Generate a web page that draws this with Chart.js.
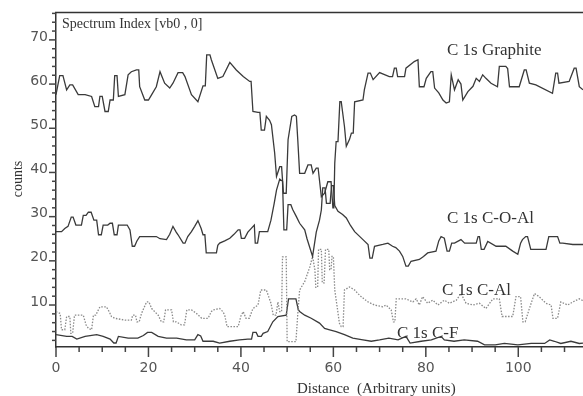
<!DOCTYPE html>
<html>
<head>
<meta charset="utf-8">
<script src="https://cdn.jsdelivr.net/npm/chart.js@4"></script>
<style>
  html, body { margin: 0; padding: 0; background: #fff; }
  #chart { display: block; }
</style>
</head>
<body>
<canvas id="chart" width="583" height="396"></canvas>
<script>
// values (distance, counts)
const graphiteX = [0,0.8,1.5,2.3,3.0,3.6,4.8,6.3,7.7,8.4,9.2,9.5,10.0,10.6,11.3,11.7,12.4,12.7,13.2,13.5,14.9,15.6,16.3,17.4,17.9,18.1,19.2,20.0,20.7,21.7,22.5,23.5,24.6,25.3,26.4,27.4,27.9,29.3,30.7,31.8,32.3,32.6,33.3,33.6,35.0,36.1,37.6,39.0,40.5,41.9,42.2,42.6,43.7,44.1,44.4,45.1,45.5,46.2,46.6,47.3,47.7,48.4,48.8,49.2,49.8,50.2,51.0,51.6,52.0,52.3,52.7,53.8,54.5,55.2,55.6,56.3,56.7,57.4,58.1,58.8,59.5,59.9,60.1,60.3,60.6,61.0,61.4,61.7,62.4,62.8,63.5,63.9,64.3,64.6,66.4,66.7,67.5,68.0,68.6,70.0,72.1,72.8,73.2,73.6,73.9,75.4,75.7,77.5,78.3,78.6,79.6,80.1,81.1,81.5,81.9,82.8,83.7,84.4,85.1,85.5,86.2,87.0,87.6,88.0,89.1,90.2,90.9,91.6,92.3,93.0,94.1,95.5,95.9,97.3,97.7,98.1,100.2,101.3,101.7,102.4,103.8,107.4,108.1,108.5,108.8,111.0,112.1,112.5,113.2,114];
const graphiteY = [57.6,61.9,61.9,58.7,59.8,59.8,57.6,57.6,57.2,54.9,54.9,57.2,57.2,53.8,53.8,56.4,56.4,61.9,61.9,57.2,57.6,62.1,62.8,63.2,63.2,59.4,56.4,56.4,57.6,59.4,62.8,60.2,59.1,60.2,62.6,62.6,61.7,57.6,56.0,59.6,59.6,66.6,66.6,65.5,61.3,61.7,64.9,63.2,61.7,60.6,60.6,53.8,53.6,53.6,49.6,49.6,52.7,51.8,50.8,44.4,39.1,41.3,41.3,35.3,35.3,47.4,52.7,53.0,52.7,47.4,39.8,39.8,41.7,41.7,39.8,41.0,41.0,34.5,35.3,37.9,37.9,32.0,32.0,42.1,47.0,47.0,56.0,56.0,50.4,45.9,47.5,48.9,48.9,56.0,56.4,58.7,62.5,62.5,61.0,62.6,61.7,61.7,63.6,63.6,61.7,61.7,63.6,65.1,65.5,59.4,59.4,61.3,62.8,62.8,59.1,58.0,56.4,55.7,56.0,62.1,58.7,61.0,60.0,56.4,58.3,59.5,61.3,60.6,62.1,61.3,60.2,59.4,64.0,64.0,63.5,59.4,59.4,63.2,63.2,60.2,59.8,57.9,62.5,62.5,60.2,60.6,63.6,63.6,59.4,58.7];

const coalX = [0,1.2,1.9,2.6,3.3,3.7,4.3,5.5,5.9,6.5,7.0,7.6,8.2,8.8,9.2,9.8,10.2,11.2,11.7,12.2,12.6,13.2,13.5,15.4,16.0,16.5,17.0,17.5,18.1,21.7,22.5,23.9,24.6,25.3,26.0,26.4,27.5,27.9,28.5,29.3,30.0,30.7,31.4,31.8,32.2,32.5,34.7,35.0,35.4,36.5,37.6,38.5,39.4,39.8,40.1,40.8,41.5,42.2,42.9,43.1,43.6,44.0,45.8,46.5,47.2,47.7,48.4,49.0,49.3,49.9,50.2,50.8,51.2,52.0,52.7,53.8,54.3,55.5,56.3,57.0,57.4,57.7,58.2,58.5,59.3,59.6,60.0,60.3,61.0,62.0,62.8,63.7,64.6,65.5,66.4,67.5,67.9,68.4,68.9,70.7,71.8,72.8,73.5,74.3,75.0,75.7,76.2,76.8,78.6,79.5,80.4,82.2,82.8,83.3,84.0,84.6,85.1,85.6,86.2,87.6,88.4,89.1,90.9,91.3,91.6,92.0,92.6,93.4,95.2,97.3,98.8,99.9,100.5,100.9,101.6,102.0,102.7,103.1,106.0,106.6,108.5,109.0,109.6,111.8,114];
const coalY = [26.6,26.6,27.3,27.8,29.9,29.9,28.1,28.1,30.3,30.3,31.0,31.0,29.2,29.2,25.9,25.9,28.1,28.1,28.5,28.5,25.9,25.9,28.1,28.1,27.0,23.3,23.3,24.5,25.5,25.5,25.0,24.8,26.0,27.8,26.5,25.9,24.0,24.0,25.5,26.6,27.8,29.1,27.3,25.9,25.9,21.8,21.8,23.5,24.0,24.5,25.1,26.0,27.0,27.0,25.1,25.1,26.5,27.3,28.1,24.0,24.0,26.6,26.6,29.2,33.0,36.0,38.5,38.0,27.0,27.0,32.7,32.7,31.6,30.0,28.5,27.0,25.0,21.0,26.5,29.2,31.5,36.5,36.5,33.0,33.0,37.0,37.0,32.5,31.2,30.5,29.7,28.0,26.6,25.7,24.8,23.7,20.6,20.6,23.3,23.7,24.0,23.3,23.0,22.2,21.0,18.8,18.8,19.9,20.3,21.0,21.8,22.2,24.5,25.5,25.1,22.2,22.2,24.0,24.0,24.8,24.0,24.0,24.0,25.5,25.5,22.6,22.6,24.4,23.3,23.3,22.2,21.5,24.0,24.8,25.5,25.5,22.6,22.6,22.6,25.5,25.5,24.0,24.0,23.7,23.7];

const calX = [0,0.9,1.2,1.9,2.3,3.0,3.2,3.6,4.0,5.9,6.5,7.0,7.7,8.1,8.6,9.5,10.9,11.5,12.0,12.7,14.9,16.3,16.6,17.2,17.5,18.0,18.5,19.6,20.1,20.7,22.1,22.8,23.3,23.7,25.0,25.4,26.0,27.1,27.8,28.3,29.3,30.4,31.5,32.9,33.6,34.0,35.4,36.1,36.5,37.0,39.4,40.0,40.5,41.1,41.8,42.6,43.7,44.3,45.5,46.5,47.0,47.6,48.0,48.4,48.8,49.0,49.8,50.0,51.9,52.3,52.7,53.8,54.9,55.5,56.0,56.2,56.6,56.8,57.4,57.6,58.0,58.3,59.0,59.2,59.5,59.7,60.0,60.3,60.9,61.3,61.7,62.1,62.4,63.5,64.6,65.3,66.0,67.5,68.9,70.7,71.4,72.5,73.0,73.3,73.6,75.7,76.5,77.2,77.9,78.6,79.3,80.4,81.5,82.6,84.0,85.1,86.6,87.6,88.7,90.2,91.6,93.0,94.5,95.9,96.5,98.8,99.5,100.5,101.0,101.5,102.4,103.5,104.5,106.0,107.1,107.5,108.5,109.2,110.7,111.8,113.2,114];
const calY = [8.5,8.1,4.4,4.4,7.4,7.4,3.6,3.6,7.7,7.7,5.5,4.7,4.4,7.7,7.7,9.6,9.6,8.5,7.4,7.0,6.6,6.6,7.7,7.7,6.2,6.2,8.1,10.7,10.7,9.2,7.7,6.2,6.2,8.9,8.9,6.2,6.2,5.5,5.5,8.9,8.9,8.1,7.0,7.0,8.5,8.9,9.2,8.5,7.7,5.1,5.1,7.5,8.5,7.0,7.0,9.2,10.0,13.4,13.4,10.4,7.7,7.7,10.7,8.5,8.5,20.9,20.9,1.7,1.7,8.0,13.4,15.3,18.6,21.0,18.0,14.0,14.0,22.6,22.6,15.0,15.0,22.6,22.6,18.0,18.0,21.0,21.0,13.4,9.0,5.9,5.1,5.1,13.4,14.1,13.4,12.6,11.9,10.7,10.0,9.6,10.0,8.9,6.2,6.2,11.4,11.4,11.0,10.7,11.4,10.0,11.9,10.4,11.1,10.0,11.1,10.4,11.1,12.6,10.4,10.0,10.4,9.2,11.4,11.4,7.4,7.4,11.9,11.9,6.2,6.2,9.2,12.6,11.9,10.4,10.0,7.0,7.0,10.7,10.0,10.7,11.4,11.0];

const cfX = [0,2.3,3.5,4.5,6.3,8.8,10.2,11.7,12.5,13.0,13.5,15.6,17.7,18.9,19.8,20.7,22.1,23.9,26.1,28.2,30.0,30.7,31.3,31.8,34.0,35.4,37.6,39.7,41.5,42.3,42.6,43.3,43.7,44.4,44.8,45.8,46.9,48.0,49.8,50.3,51.9,52.4,52.7,53.8,55.2,57.0,58.1,59.2,60.6,62.4,64.2,66.4,68.2,70.0,72.0,74.0,75.7,76.6,79.0,81.2,83.3,84.0,86.1,88.3,91.2,92.7,95.0,97.0,99.9,102.8,105.7,106.8,107.8,109.2,111.4,113.2,114];
const cfY = [3.3,2.9,2.9,2.3,2.9,3.3,2.9,2.3,1.4,1.4,2.9,2.5,2.5,3.1,3.8,3.8,2.9,2.5,2.5,2.1,2.1,3.3,3.0,1.8,1.8,1.4,1.8,2.1,2.3,2.3,3.8,3.8,2.9,2.9,3.6,4.0,6.2,7.4,7.7,11.4,11.4,9.0,8.5,7.7,7.0,5.9,4.7,4.4,4.0,3.3,2.5,2.1,1.8,2.1,2.5,2.1,2.9,1.4,1.8,2.1,2.9,2.1,1.8,2.1,1.8,1.0,1.0,1.3,1.0,1.3,1.3,2.1,1.8,1.3,1.8,1.3,1.4];

const xTicks = [0, 20, 40, 60, 80, 100];
const yTicks = [10, 20, 30, 40, 50, 60, 70];

const pts = (xs, ys) => xs.map((x, i) => ({ x: x, y: ys[i] }));

const INK = '#3a3a3a';

// axis tick marks, frame line and the texts drawn straight on the canvas
const decor = {
    id: 'decor',
    afterDraw(chart) {
        const ctx = chart.ctx;
        const area = chart.chartArea;
        const xs = chart.scales.x;
        const ys = chart.scales.y;
        ctx.save();
        ctx.strokeStyle = '#333';
        ctx.lineWidth = 1.5;
        ctx.beginPath();
        ctx.moveTo(area.left - 1, area.top);
        ctx.lineTo(area.right, area.top);
        ctx.stroke();

        ctx.strokeStyle = '#444';
        ctx.lineWidth = 1.5;
        for (let v = 0; v <= 114; v += 5) {
            const px = xs.getPixelForValue(v);
            const len = v % 20 === 0 ? 10 : 5;
            ctx.beginPath();
            ctx.moveTo(px, area.bottom);
            ctx.lineTo(px, area.bottom + len);
            ctx.stroke();
        }
        for (let v = 2; v <= 76; v += 2) {
            const py = ys.getPixelForValue(v);
            const len = v % 10 === 0 ? 7 : 4;
            ctx.beginPath();
            ctx.moveTo(area.left, py);
            ctx.lineTo(area.left - len, py);
            ctx.stroke();
        }

        ctx.fillStyle = '#333';
        ctx.textBaseline = 'alphabetic';
        ctx.textAlign = 'left';
        ctx.font = '14px "Liberation Serif"';
        ctx.fillText('Spectrum Index [vb0 , 0]', 62, 28);

        ctx.font = '17px "Liberation Serif"';
        ctx.fillText('C 1s Graphite', 447, 55);
        ctx.fillText('C 1s C-O-Al', 447, 223);
        ctx.fillText('C 1s C-Al', 442, 295);
        ctx.fillText('C 1s C-F', 397, 338);

        ctx.font = '15px "Liberation Serif"';
        ctx.fillText('Distance  (Arbitrary units)', 297, 393);

        ctx.translate(22, 179);
        ctx.rotate(-Math.PI / 2);
        ctx.textAlign = 'center';
        ctx.font = '14px "Liberation Serif"';
        ctx.fillText('counts', 0, 0);
        ctx.restore();
    }
};

new Chart(document.getElementById('chart'), {
    type: 'line',
    data: {
        datasets: [
            { label: 'C 1s Graphite', data: pts(graphiteX, graphiteY), borderColor: INK, borderWidth: 1.3 },
            { label: 'C 1s C-O-Al', data: pts(coalX, coalY), borderColor: INK, borderWidth: 1.3 },
            { label: 'C 1s C-Al', data: pts(calX, calY), borderColor: '#8a8a8a', borderWidth: 1.3, borderDash: [1.5, 1.5] },
            { label: 'C 1s C-F', data: pts(cfX, cfY), borderColor: INK, borderWidth: 1.3 }
        ]
    },
    options: {
        responsive: false,
        animation: false,
        devicePixelRatio: 1,
        layout: { padding: { top: 12.5, right: 0, bottom: 0, left: 0 } },
        elements: { point: { radius: 0 }, line: { tension: 0 } },
        plugins: { legend: { display: false }, tooltip: { enabled: false } },
        scales: {
            x: {
                type: 'linear',
                min: 0,
                max: 114,
                grid: { display: false, drawTicks: false },
                border: { display: true, color: '#333', width: 1.5 },
                afterBuildTicks: s => { s.ticks = xTicks.map(v => ({ value: v })); },
                afterFit: s => { s.height = 49; s.paddingLeft = 0; s.paddingRight = 0; },
                ticks: {
                    padding: 13,
                    maxRotation: 0,
                    color: '#555',
                    font: { family: 'DejaVu Sans', size: 14 }
                }
            },
            y: {
                min: 0.5,
                max: 76.2,
                grid: { display: false, drawTicks: false },
                border: { display: true, color: '#333', width: 1.5 },
                afterBuildTicks: s => { s.ticks = yTicks.map(v => ({ value: v })); },
                afterFit: s => { s.width = 56; s.paddingTop = 0; s.paddingBottom = 0; },
                ticks: {
                    padding: 8,
                    labelOffset: -3,
                    color: '#555',
                    font: { family: 'DejaVu Sans', size: 14 }
                }
            }
        }
    },
    plugins: [decor]
});
</script>
</body>
</html>
